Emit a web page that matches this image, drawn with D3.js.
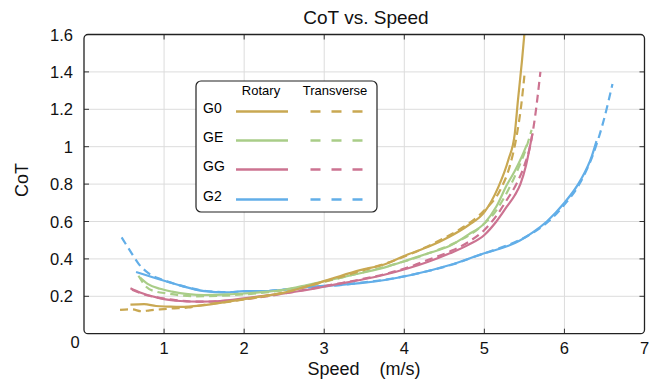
<!DOCTYPE html>
<html><head><meta charset="utf-8">
<script src="https://cdn.jsdelivr.net/npm/d3@7"></script>
<style>body{margin:0;background:#fff}svg{display:block;font-family:"Liberation Sans",Arial,Helvetica,sans-serif}</style>
</head><body><svg id="c" width="665" height="383"></svg>
<script>
// ---- data ----
const xTicks = [1,2,3,4,5,6,7];
const yTicks = [0.2,0.4,0.6,0.8,1,1.2,1.4,1.6];
const yTickLabels = ["0.2","0.4","0.6","0.8","1","1.2","1.4","1.6"];
const groups = ["G0","GE","GG","G2"];
const colors = ["#c9a852","#a9cd88","#cc7391","#62aee8"];

const g0RotSpeed = [0.58,0.75,0.9,1.05,1.2,1.45,1.7,2.0,2.3,2.5,2.8,3.1,3.45,3.75,4.05,4.3,4.57,4.8,5.0,5.17,5.3,5.38,5.42,5.47,5.52];
const g0RotCoT   = [0.155,0.158,0.148,0.145,0.143,0.150,0.165,0.185,0.205,0.220,0.255,0.295,0.340,0.370,0.425,0.465,0.520,0.580,0.650,0.780,0.930,1.07,1.25,1.46,1.70];
const g0TraSpeed = [0.45,0.6,0.72,0.82,0.95,1.1,1.3,1.5,1.8,2.1,2.5,2.8,3.1,3.45,3.8,4.1,4.4,4.7,5.0,5.2,5.32,5.4,5.46,5.5];
const g0TraCoT   = [0.127,0.13,0.12,0.125,0.13,0.135,0.14,0.155,0.17,0.19,0.22,0.255,0.29,0.335,0.38,0.43,0.49,0.56,0.66,0.77,0.9,1.05,1.22,1.38];

const geRotSpeed = [0.7,0.8,0.95,1.1,1.3,1.5,1.8,2.0,2.3,2.5,2.8,3.1,3.45,3.8,4.05,4.3,4.57,4.8,5.0,5.15,5.28,5.38,5.46,5.53];
const geRotCoT   = [0.30,0.265,0.24,0.225,0.212,0.207,0.21,0.215,0.225,0.235,0.262,0.29,0.323,0.36,0.395,0.43,0.47,0.53,0.59,0.68,0.795,0.87,0.94,1.01];
const geTraSpeed = [0.68,0.78,0.9,1.05,1.2,1.4,1.7,2.0,2.3,2.6,2.9,3.2,3.5,3.8,4.1,4.4,4.7,4.95,5.15,5.3,5.42,5.52,5.59];
const geTraCoT   = [0.31,0.25,0.225,0.215,0.205,0.2,0.203,0.21,0.222,0.24,0.268,0.298,0.33,0.362,0.4,0.445,0.5,0.57,0.66,0.77,0.88,0.99,1.09];

const ggRotSpeed = [0.58,0.7,0.85,1.0,1.2,1.45,1.7,2.0,2.3,2.5,2.8,3.1,3.45,3.75,4.05,4.3,4.57,4.8,5.0,5.15,5.28,5.38,5.45,5.52,5.6];
const ggRotCoT   = [0.243,0.22,0.2,0.185,0.175,0.171,0.175,0.189,0.205,0.216,0.235,0.26,0.287,0.315,0.35,0.385,0.43,0.475,0.528,0.6,0.679,0.74,0.8,0.9,1.07];
const ggTraSpeed = [0.6,0.75,0.9,1.1,1.35,1.6,1.9,2.2,2.5,2.8,3.1,3.45,3.75,4.05,4.3,4.57,4.8,5.0,5.15,5.28,5.4,5.5,5.58,5.63,5.7];
const ggTraCoT   = [0.235,0.21,0.195,0.182,0.172,0.172,0.18,0.195,0.215,0.238,0.262,0.29,0.318,0.355,0.395,0.44,0.49,0.555,0.63,0.715,0.8,0.9,1.02,1.15,1.40];

const g2RotSpeed = [0.65,0.8,0.97,1.17,1.5,1.78,2.0,2.3,2.6,2.85,3.1,3.45,3.8,4.1,4.57,5.0,5.3,5.45,5.6,5.78,6.0,6.2,6.34,6.4];
const g2RotCoT   = [0.33,0.31,0.287,0.262,0.228,0.221,0.228,0.228,0.24,0.252,0.258,0.27,0.29,0.315,0.367,0.43,0.47,0.5,0.54,0.6,0.7,0.82,0.947,1.03];
const g2TraSpeed = [0.47,0.58,0.68,0.8,0.97,1.17,1.5,1.78,2.0,2.3,2.6,2.9,3.2,3.5,3.85,4.2,4.6,5.0,5.3,5.55,5.8,6.0,6.2,6.35,6.49,6.6];
const g2TraCoT   = [0.515,0.44,0.375,0.325,0.29,0.262,0.23,0.222,0.226,0.229,0.24,0.25,0.26,0.275,0.295,0.325,0.37,0.43,0.475,0.525,0.6,0.69,0.81,0.95,1.14,1.335];

const rotary = [[g0RotSpeed,g0RotCoT],[geRotSpeed,geRotCoT],[ggRotSpeed,ggRotCoT],[g2RotSpeed,g2RotCoT]];
const transverse = [[g0TraSpeed,g0TraCoT],[geTraSpeed,geTraCoT],[ggTraSpeed,ggTraCoT],[g2TraSpeed,g2TraCoT]];

// ---- layout ----
const L = 84, R = 644.5, T = 34.5, B = 333.7;
const svg = d3.select("#c");
const x = d3.scaleLinear().domain([0,7]).range([L,R]);
const y = d3.scaleLinear().domain([0,1.6]).range([B,T]);

svg.append("defs").append("clipPath").attr("id","clip")
  .append("rect").attr("x",L).attr("y",T).attr("width",R-L).attr("height",B-T);

// grid
const grid = svg.append("g").attr("stroke","#dcdcdc").attr("stroke-width",1);
grid.selectAll(".vx").data(xTicks.slice(0,-1)).join("line")
  .attr("x1",d=>x(d)).attr("x2",d=>x(d)).attr("y1",T).attr("y2",B);
grid.selectAll(".hy").data(yTicks.slice(0,-1)).join("line")
  .attr("y1",d=>y(d)).attr("y2",d=>y(d)).attr("x1",L).attr("x2",R);

// ticks (inward)
const tk = svg.append("g").attr("stroke","#333").attr("stroke-width",1);
xTicks.slice(0,-1).forEach(d=>{
  tk.append("line").attr("x1",x(d)).attr("x2",x(d)).attr("y1",B).attr("y2",B-5);
  tk.append("line").attr("x1",x(d)).attr("x2",x(d)).attr("y1",T).attr("y2",T+5);
});
yTicks.slice(0,-1).forEach(d=>{
  tk.append("line").attr("y1",y(d)).attr("y2",y(d)).attr("x1",L).attr("x2",L+5);
  tk.append("line").attr("y1",y(d)).attr("y2",y(d)).attr("x1",R).attr("x2",R-5);
});

// curves
const line = d3.line().x(d=>x(d[0])).y(d=>y(d[1])).curve(d3.curveMonotoneX);
const plot = svg.append("g").attr("clip-path","url(#clip)").attr("fill","none");
function zip(s){return s[0].map((v,i)=>[v,s[1][i]]);}
[3,2,1,0].forEach(i=>{
  plot.append("path").attr("d",line(zip(transverse[i]))).attr("stroke",colors[i])
    .attr("stroke-width",2.2).attr("stroke-dasharray","8,5");
  plot.append("path").attr("d",line(zip(rotary[i]))).attr("stroke",colors[i])
    .attr("stroke-width",2.2);
});

// axis frame with rounded corners
svg.append("rect").attr("x",L).attr("y",T).attr("width",R-L).attr("height",B-T)
  .attr("rx",4).attr("fill","none").attr("stroke","#222").attr("stroke-width",1.3);

// tick labels
const tl = svg.append("g").attr("font-size",16.5).attr("fill","#111");
tl.selectAll(".xl").data(xTicks).join("text")
  .attr("x",d=>x(d)).attr("y",354).attr("text-anchor","middle").text(d=>d);
tl.selectAll(".yl").data(yTicks).join("text")
  .attr("x",73).attr("y",d=>y(d)+6).attr("text-anchor","end").text((d,i)=>yTickLabels[i]);
tl.append("text").attr("x",75).attr("y",348).attr("text-anchor","middle").text("0");

// titles
svg.append("text").attr("x",366).attr("y",24).attr("text-anchor","middle")
  .attr("font-size",19).attr("fill","#111").text("CoT vs. Speed");
svg.append("text").attr("x",364).attr("y",375).attr("text-anchor","middle")
  .attr("font-size",18).attr("fill","#111").attr("xml:space","preserve").text("Speed    (m/s)");
svg.append("text").attr("transform","translate(28,180) rotate(-90)").attr("text-anchor","middle")
  .attr("font-size",18).attr("fill","#111").text("CoT");

// legend
const lg = svg.append("g");
lg.append("rect").attr("x",196).attr("y",81).attr("width",181).attr("height",131)
  .attr("rx",5).attr("fill","#fff").attr("stroke","#222").attr("stroke-width",1.2);
lg.append("text").attr("x",261).attr("y",95).attr("text-anchor","middle").attr("font-size",13).text("Rotary");
lg.append("text").attr("x",335).attr("y",95).attr("text-anchor","middle").attr("font-size",13).text("Transverse");
const rowsY = [111.5,140.5,169.5,199.5];
groups.forEach((g,i)=>{
  lg.append("text").attr("x",203).attr("y",rowsY[i]+1).attr("font-size",14).text(g);
  lg.append("line").attr("x1",236).attr("x2",288).attr("y1",rowsY[i]).attr("y2",rowsY[i])
    .attr("stroke",colors[i]).attr("stroke-width",2.5);
  lg.append("line").attr("x1",310.5).attr("x2",363).attr("y1",rowsY[i]).attr("y2",rowsY[i])
    .attr("stroke",colors[i]).attr("stroke-width",2.5).attr("stroke-dasharray","10,11");
});
</script></body></html>
